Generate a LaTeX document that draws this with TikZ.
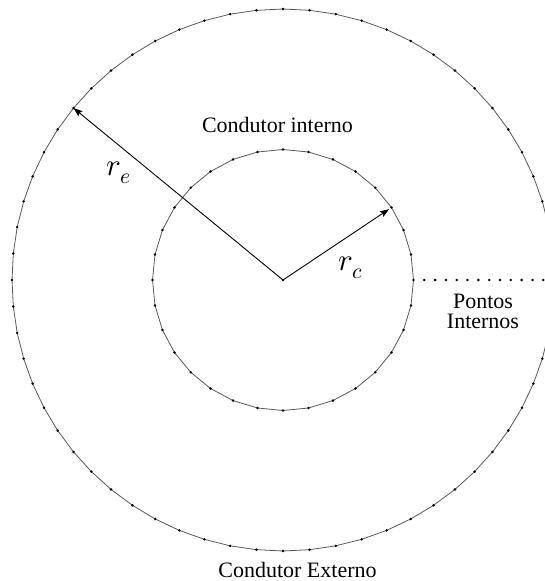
\documentclass[tikz,border=0pt]{standalone}
\usepackage{fontspec}
\usepackage{unicode-math}
\setmainfont{Liberation Serif}
\usetikzlibrary{arrows.meta}

\begin{document}
\begin{tikzpicture}[
  x=1pt, y=1pt,
  every node/.style={inner sep=1pt},
  pt/.style={circle, fill=black, minimum size=2.8pt, inner sep=0pt},
  rim/.style={draw=black!65, line width=0.8pt},
  arrow/.style={draw, line width=0.9pt, -{Stealth[length=9pt, width=6.5pt, inset=1.5pt]}},
  lbl/.style={font=\fontsize{22}{20}\selectfont},
  sym/.style={font=\fontsize{31}{31}\selectfont}]

  % frame of the figure (the outer ring runs off the right edge)
  \useasboundingbox (-283,-301) rectangle (262,280);
  \clip (-283,-301) rectangle (262,280);

  % points on the two conductors
  \coordinate (O) at (0,0);
  \foreach \i in {0,...,63} \coordinate (e\i) at (\i*5.625:271);
  \foreach \i in {0,...,31} \coordinate (c\i) at (\i*11.25:130.5);

  % boundaries
  \draw[rim] (e0) foreach \i in {1,...,63} {-- (e\i)} -- cycle;
  \draw[rim] (c0) foreach \i in {1,...,31} {-- (c\i)} -- cycle;

  % nodes
  \foreach \i in {0,...,63} \node[pt] (ne\i) at (e\i) {};
  \foreach \i in {0,...,31} \node[pt] (nc\i) at (c\i) {};
  \foreach \i in {1,...,12} \node[pt] (p\i) at (130.5+\i*10.81,0) {};
  \node[pt] (nO) at (O) {};

  % radii
  \draw[arrow] (O) -- (e25);
  \draw[arrow, shorten >=3pt] (O) -- (c3);

  % labels
  \node[sym] (re) at (-164,107) {$r_e$};
  \node[sym] (rc) at (68,12) {$r_c$};
  \node[lbl, anchor=base] (inner) at (-5.5,147.3) {Condutor interno};
  \node[lbl, anchor=base] (outer) at (14.5,-297) {Condutor Externo};
  \node[lbl, anchor=base, align=center] (pts) at (200,-48) {Pontos\\Internos};
\end{tikzpicture}
\end{document}
